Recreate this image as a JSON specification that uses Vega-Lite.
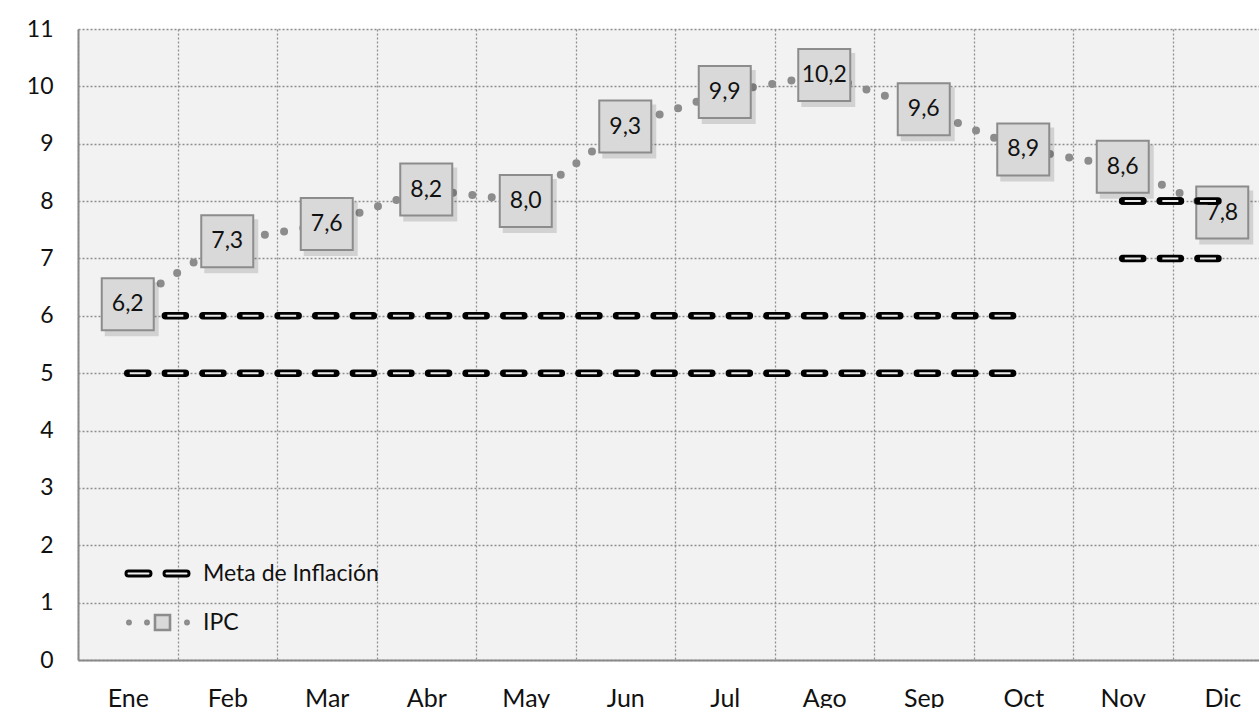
{
  "$schema": "https://vega.github.io/schema/vega-lite/v6.json",
  "width": 1194,
  "height": 631,
  "autosize": {"type": "none"},
  "padding": {"left": 78, "top": 29, "right": 0, "bottom": 48},
  "background": "white",
  "datasets": {
    "ipc": [
      {"mes": "Ene", "v": 6.2, "serie": "IPC"},
      {"mes": "Feb", "v": 7.3, "serie": "IPC"},
      {"mes": "Mar", "v": 7.6, "serie": "IPC"},
      {"mes": "Abr", "v": 8.2, "serie": "IPC"},
      {"mes": "May", "v": 8.0, "serie": "IPC"},
      {"mes": "Jun", "v": 9.3, "serie": "IPC"},
      {"mes": "Jul", "v": 9.9, "serie": "IPC"},
      {"mes": "Ago", "v": 10.2, "serie": "IPC"},
      {"mes": "Sep", "v": 9.6, "serie": "IPC"},
      {"mes": "Oct", "v": 8.9, "serie": "IPC"},
      {"mes": "Nov", "v": 8.6, "serie": "IPC"},
      {"mes": "Dic", "v": 7.8, "serie": "IPC"}
    ],
    "meta": [
      {"mes": "Ene", "v": 6, "seg": "sup1", "serie": "Meta de Inflación"},
      {"mes": "Feb", "v": 6, "seg": "sup1", "serie": "Meta de Inflación"},
      {"mes": "Mar", "v": 6, "seg": "sup1", "serie": "Meta de Inflación"},
      {"mes": "Abr", "v": 6, "seg": "sup1", "serie": "Meta de Inflación"},
      {"mes": "May", "v": 6, "seg": "sup1", "serie": "Meta de Inflación"},
      {"mes": "Jun", "v": 6, "seg": "sup1", "serie": "Meta de Inflación"},
      {"mes": "Jul", "v": 6, "seg": "sup1", "serie": "Meta de Inflación"},
      {"mes": "Ago", "v": 6, "seg": "sup1", "serie": "Meta de Inflación"},
      {"mes": "Sep", "v": 6, "seg": "sup1", "serie": "Meta de Inflación"},
      {"mes": "Oct", "v": 6, "seg": "sup1", "serie": "Meta de Inflación"},
      {"mes": "Ene", "v": 5, "seg": "inf1", "serie": "Meta de Inflación"},
      {"mes": "Feb", "v": 5, "seg": "inf1", "serie": "Meta de Inflación"},
      {"mes": "Mar", "v": 5, "seg": "inf1", "serie": "Meta de Inflación"},
      {"mes": "Abr", "v": 5, "seg": "inf1", "serie": "Meta de Inflación"},
      {"mes": "May", "v": 5, "seg": "inf1", "serie": "Meta de Inflación"},
      {"mes": "Jun", "v": 5, "seg": "inf1", "serie": "Meta de Inflación"},
      {"mes": "Jul", "v": 5, "seg": "inf1", "serie": "Meta de Inflación"},
      {"mes": "Ago", "v": 5, "seg": "inf1", "serie": "Meta de Inflación"},
      {"mes": "Sep", "v": 5, "seg": "inf1", "serie": "Meta de Inflación"},
      {"mes": "Oct", "v": 5, "seg": "inf1", "serie": "Meta de Inflación"},
      {"mes": "Nov", "v": 8, "seg": "sup2", "serie": "Meta de Inflación"},
      {"mes": "Dic", "v": 8, "seg": "sup2", "serie": "Meta de Inflación"},
      {"mes": "Nov", "v": 7, "seg": "inf2", "serie": "Meta de Inflación"},
      {"mes": "Dic", "v": 7, "seg": "inf2", "serie": "Meta de Inflación"}
    ]
  },
  "encoding": {
    "x": {
      "field": "mes",
      "type": "nominal",
      "sort": ["Ene", "Feb", "Mar", "Abr", "May", "Jun", "Jul", "Ago", "Sep", "Oct", "Nov", "Dic"],
      "scale": {"type": "band", "domain": ["Ene", "Feb", "Mar", "Abr", "May", "Jun", "Jul", "Ago", "Sep", "Oct", "Nov", "Dic"], "paddingInner": 0, "paddingOuter": 0},
      "axis": {
        "title": null,
        "tickBand": "extent",
        "grid": true,
        "gridDash": [2, 2],
        "gridColor": "#8f8f8f",
        "gridWidth": 1.3,
        "ticks": false,
        "domain": true,
        "domainColor": "#8a8a8a",
        "domainWidth": 2,
        "labelFontSize": 25,
        "labelPadding": 26,
        "labelAngle": 0,
        "labelColor": "#111111"
      }
    },
    "y": {
      "field": "v",
      "type": "quantitative",
      "scale": {"domain": [0, 11], "nice": false, "zero": true},
      "axis": {
        "title": null,
        "values": [0, 1, 2, 3, 4, 5, 6, 7, 8, 9, 10, 11],
        "grid": true,
        "gridDash": [2, 2],
        "gridColor": "#8f8f8f",
        "gridWidth": 1.3,
        "ticks": false,
        "domain": true,
        "domainColor": "#8a8a8a",
        "domainWidth": 2,
        "labelFontSize": 23,
        "labelPadding": 25,
        "labelColor": "#111111",
        "format": "d"
      }
    }
  },
  "layer": [
    {
      "data": {"name": "meta"},
      "mark": {"type": "line", "strokeWidth": 7.5, "strokeCap": "round", "strokeDash": [20, 17.6]},
      "encoding": {
        "detail": {"field": "seg"},
        "color": {
          "field": "serie",
          "type": "nominal",
          "scale": {"domain": ["Meta de Inflación", "IPC"], "range": ["#000000", "#8c8c8c"]},
          "legend": {
            "title": null,
            "orient": "none",
            "legendX": 68,
            "legendY": 533,
            "padding": 0,
            "symbolSize": 4356,
            "rowPadding": 23,
            "labelOffset": 34,
            "labelLimit": 400,
            "labelFontSize": 23,
            "labelColor": "#111111",
            "encode": {
              "symbols": {
                "update": {
                  "shape": {"signal": "datum.value === 'IPC' ? 'M -0.914,0 C -0.914,-0.066 -0.814,-0.066 -0.814,0 C -0.814,0.066 -0.914,0.066 -0.914,0 Z M -0.368,0 C -0.368,-0.066 -0.268,-0.066 -0.268,0 C -0.268,0.066 -0.368,0.066 -0.368,0 Z M -0.076,-0.227 L 0.379,-0.227 L 0.379,0.227 L -0.076,0.227 Z M 0.844,0 C 0.844,-0.066 0.944,-0.066 0.944,0 C 0.944,0.066 0.844,0.066 0.844,0 Z' : 'M -0.879,-0.076 L -0.273,-0.076 C -0.172,-0.076 -0.172,0.076 -0.273,0.076 L -0.879,0.076 C -0.98,0.076 -0.98,-0.076 -0.879,-0.076 Z M 0.273,-0.076 L 0.879,-0.076 C 0.98,-0.076 0.98,0.076 0.879,0.076 L 0.273,0.076 C 0.172,0.076 0.172,-0.076 0.273,-0.076 Z'"},
                  "fill": {"signal": "datum.value === 'IPC' ? '#d9d9d9' : '#f2f2f2'"},
                  "stroke": {"signal": "datum.value === 'IPC' ? '#8c8c8c' : '#000000'"},
                  "strokeWidth": {"signal": "datum.value === 'IPC' ? 2.6 : 3"},
                  "opacity": {"value": 1}
                }
              }
            }
          }
        }
      }
    },
    {
      "data": {"name": "meta"},
      "mark": {"type": "line", "strokeWidth": 2, "strokeCap": "butt", "strokeDash": [16, 21.6], "strokeDashOffset": -2, "stroke": "#ebebeb"},
      "encoding": {"detail": {"field": "seg"}}
    },
    {
      "data": {"name": "ipc"},
      "mark": {"type": "line", "strokeWidth": 8, "strokeCap": "round", "strokeDash": [0, 19.5]},
      "encoding": {
        "color": {
          "field": "serie",
          "type": "nominal",
          "scale": {"domain": ["Meta de Inflación", "IPC"], "range": ["#000000", "#8c8c8c"]}
        }
      }
    },
    {
      "data": {"name": "ipc"},
      "mark": {"type": "square", "size": 2916, "filled": true, "fill": "#000000", "opacity": 0.13, "xOffset": 4, "yOffset": 5, "strokeWidth": 0},
      "encoding": {}
    },
    {
      "data": {"name": "ipc"},
      "mark": {"type": "square", "size": 2704, "filled": true, "fill": "#d9d9d9", "stroke": "#8c8c8c", "strokeWidth": 2, "opacity": 1},
      "encoding": {}
    },
    {
      "data": {"name": "ipc"},
      "mark": {"type": "text", "fontSize": 23, "color": "#111111", "align": "center", "baseline": "middle"},
      "encoding": {"text": {"field": "v", "type": "quantitative", "format": ".1f"}}
    },
    {
      "data": {"name": "meta"},
      "transform": [{"filter": "datum.seg === 'sup2'"}],
      "mark": {"type": "line", "strokeWidth": 7.5, "strokeCap": "round", "strokeDash": [20, 17.6], "stroke": "#000000"},
      "encoding": {"detail": {"field": "seg"}}
    },
    {
      "data": {"name": "meta"},
      "transform": [{"filter": "datum.seg === 'sup2'"}],
      "mark": {"type": "line", "strokeWidth": 2, "strokeCap": "butt", "strokeDash": [16, 21.6], "strokeDashOffset": -2, "stroke": "#ebebeb"},
      "encoding": {"detail": {"field": "seg"}}
    }
  ],
  "config": {
    "font": "Lato",
    "view": {"fill": "#f2f2f2", "stroke": null},
    "locale": {"number": {"decimal": ",", "thousands": ".", "grouping": [3], "currency": ["", ""]}}
  }
}
